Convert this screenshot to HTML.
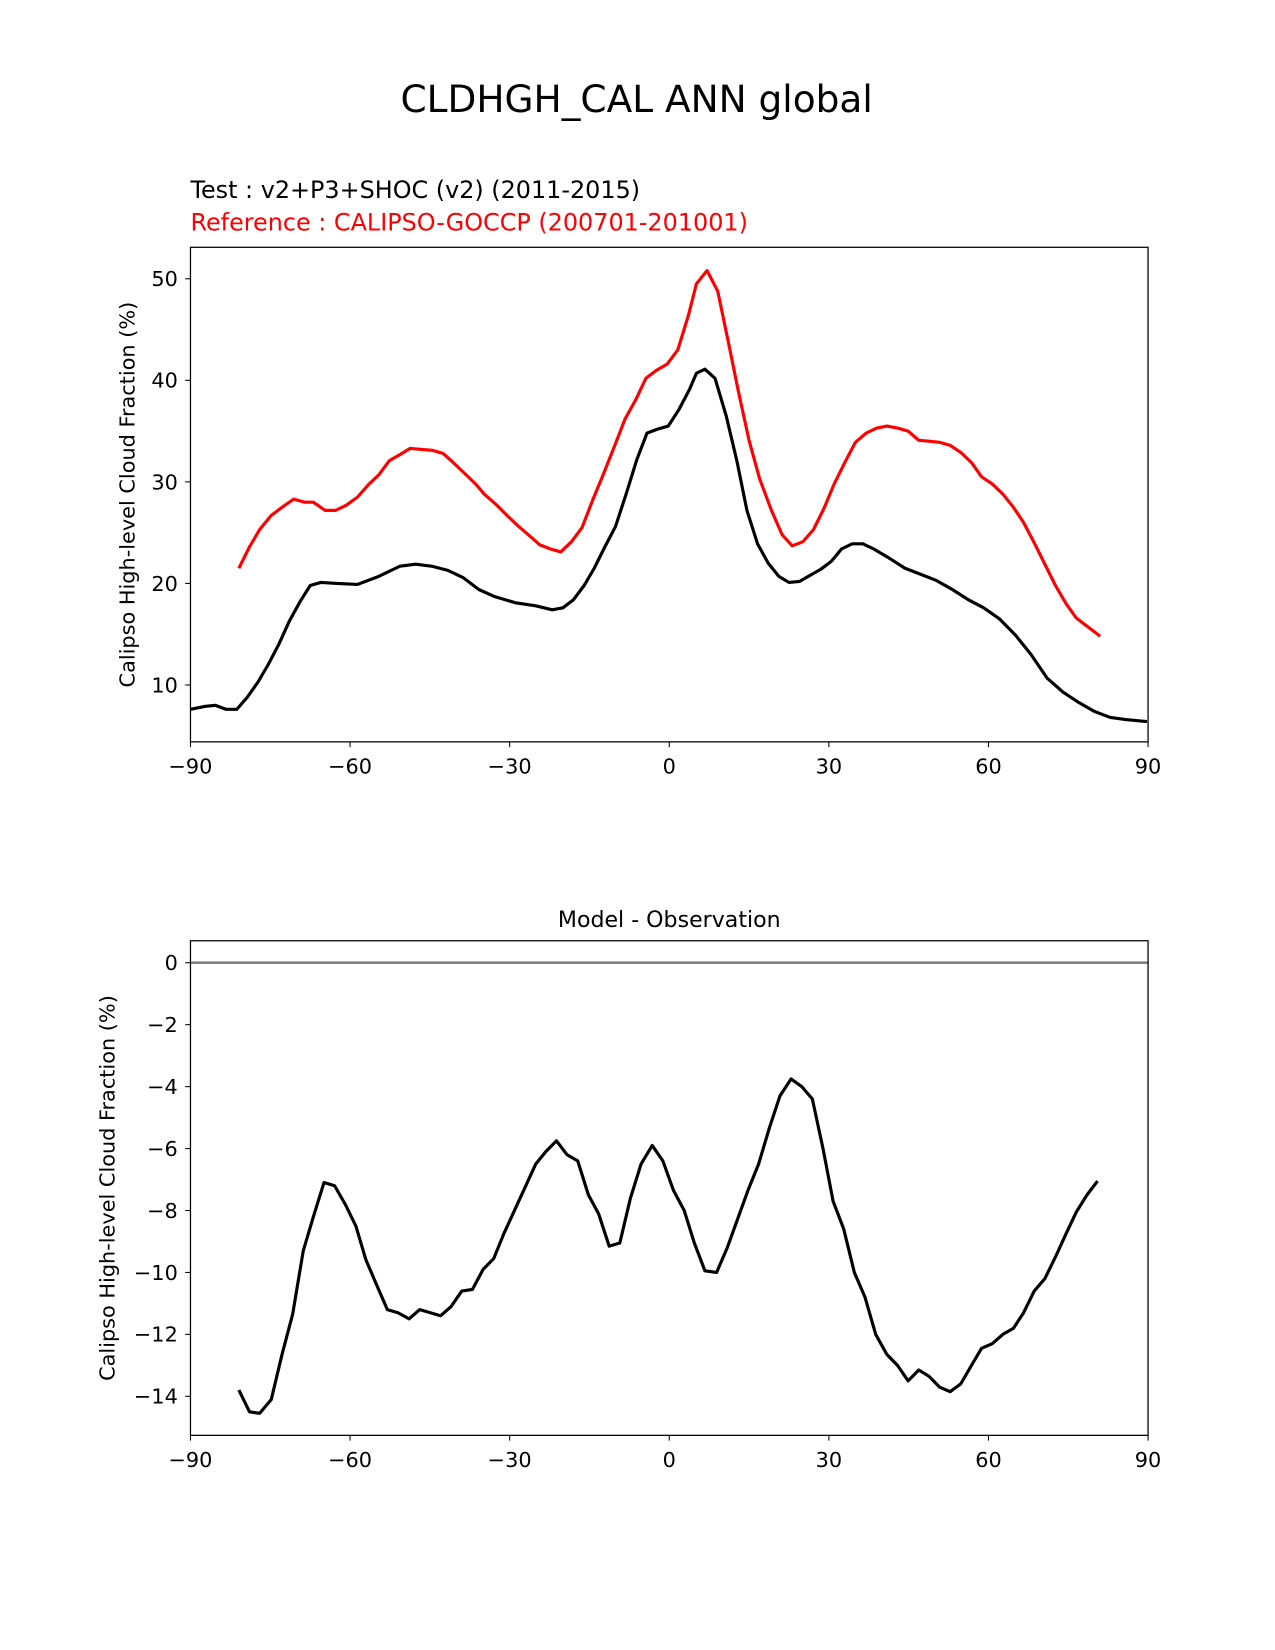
<!DOCTYPE html>
<html><head><meta charset="utf-8"><style>
body{margin:0;background:#fff}
svg{display:block;font-family:"DejaVu Sans","Liberation Sans",sans-serif}
</style></head><body>
<svg id="chart" width="1275" height="1650" viewBox="0 0 1275 1650" xmlns="http://www.w3.org/2000/svg">
<rect width="1275" height="1650" fill="#fff"/>
<g transform="scale(1.0523)">
<text x="605" y="106.4" font-size="35.6" text-anchor="middle">CLDHGH_CAL ANN global</text>
<text x="181" y="188" font-size="22.7">Test : v2+P3+SHOC (v2) (2011-2015)</text>
<text x="181" y="219" font-size="22.7" fill="#ff0000">Reference : CALIPSO-GOCCP (200701-201001)</text>
<text x="636" y="881" font-size="21" text-anchor="middle">Model - Observation</text>
<g id="top"></g>
<g id="bot"></g>
</g>
</svg>
<script>
const refLat=[-80.9,-78.9,-77,-74.8,-72.8,-70.6,-68.6,-66.9,-64.7,-62.7,-60.7,-58.6,-56.6,-54.6,-52.6,-50.6,-48.7,-46.5,-44.5,-42.5,-40.6,-38.4,-36.4,-34.8,-32.4,-30.5,-28.5,-26.5,-24.3,-22.4,-20.4,-18.4,-16.4,-14.4,-12.5,-10.3,-8.3,-6.3,-4.4,-2.4,-0.4,1.6,3.6,5.1,7.1,9.1,11.1,13,15,17,19.2,21.2,23.1,25.1,27.1,29.1,31,33,35,37,39,40.9,42.9,44.9,46.9,48.8,50.8,52.8,54.8,56.8,58.7,60.7,62.7,64.7,66.6,68.6,70.6,72.6,74.6,76.5,78.5,81];
const refVal=[21.5,23.6,25.3,26.7,27.5,28.3,28.0,28.0,27.2,27.2,27.7,28.5,29.7,30.7,32.1,32.7,33.3,33.2,33.1,32.8,31.9,30.8,29.8,28.8,27.7,26.7,25.7,24.8,23.8,23.4,23.1,24.1,25.5,28.2,30.6,33.5,36.2,38.1,40.2,41.0,41.6,43.0,46.4,49.5,50.8,48.8,43.8,38.9,34.1,30.3,27.2,24.8,23.7,24.1,25.3,27.4,29.8,31.9,33.9,34.8,35.3,35.5,35.3,35.0,34.1,34.0,33.9,33.6,32.9,31.9,30.5,29.8,28.8,27.5,26.0,24.0,21.9,19.8,18.0,16.6,15.8,14.8];
const testLat=[-90,-87.2,-85.3,-83.3,-81.3,-79.3,-77.3,-75.4,-73.4,-71.4,-69.4,-67.5,-65.5,-62.5,-58.6,-54.6,-50.6,-47.7,-44.7,-41.7,-38.8,-35.8,-32.8,-28.9,-25.1,-22,-20,-18,-16,-14.1,-12.1,-10.1,-8.1,-6.1,-4.2,-2.2,-0.2,1.8,3.8,5.1,6.7,8.6,10.7,12.7,14.6,16.6,18.6,20.6,22.5,24.5,26.5,28.5,30.5,32.4,34.4,36.4,38.4,41.3,44.3,47.3,50.2,53.2,56.2,59.1,62.1,65.1,68,71,74,76.9,79.9,82.9,85.8,89.8];
const testVal=[7.6,7.9,8.0,7.6,7.6,8.8,10.3,12.0,14.0,16.3,18.2,19.8,20.1,20.0,19.9,20.7,21.7,21.9,21.7,21.3,20.6,19.4,18.7,18.1,17.8,17.4,17.6,18.4,19.8,21.5,23.6,25.6,28.8,32.2,34.8,35.2,35.5,37.1,39.1,40.7,41.1,40.2,36.5,32.1,27.2,23.9,22.0,20.7,20.1,20.2,20.8,21.4,22.2,23.4,23.9,23.9,23.4,22.5,21.5,20.9,20.3,19.4,18.4,17.6,16.5,14.9,13.0,10.7,9.3,8.3,7.4,6.8,6.6,6.4];
const diffLat=[-80.9,-78.9,-77,-74.8,-72.8,-70.8,-68.8,-66.9,-64.9,-62.9,-60.9,-58.9,-57,-55,-53,-51,-48.9,-46.9,-44.9,-43,-41,-39,-37,-35,-33,-31.1,-29.1,-27.1,-25.1,-23.2,-21.2,-19.2,-17.2,-15.2,-13.3,-11.3,-9.3,-7.3,-5.3,-3.2,-1.2,0.8,2.8,4.7,6.7,8.9,10.9,12.8,14.8,16.8,18.8,20.8,22.9,24.9,26.9,28.9,30.8,32.8,34.8,36.8,38.8,40.9,42.9,44.9,46.9,48.8,50.8,52.8,54.8,56.8,58.7,60.7,62.7,64.7,66.6,68.6,70.6,72.6,74.6,76.5,78.5,80.5];
const diffVal=[-13.8,-14.5,-14.55,-14.1,-12.65,-11.35,-9.3,-8.2,-7.1,-7.2,-7.8,-8.5,-9.6,-10.4,-11.2,-11.3,-11.5,-11.2,-11.3,-11.4,-11.1,-10.6,-10.55,-9.9,-9.55,-8.75,-8.0,-7.25,-6.5,-6.1,-5.75,-6.2,-6.4,-7.5,-8.1,-9.15,-9.05,-7.6,-6.5,-5.9,-6.4,-7.35,-8.0,-9.05,-9.95,-10.0,-9.2,-8.3,-7.35,-6.5,-5.35,-4.3,-3.75,-4.0,-4.4,-6.0,-7.7,-8.6,-10.0,-10.8,-12.0,-12.65,-13.0,-13.5,-13.15,-13.35,-13.7,-13.85,-13.6,-13.0,-12.45,-12.3,-12.0,-11.8,-11.3,-10.6,-10.2,-9.5,-8.75,-8.05,-7.5,-7.05];
const xTicks=[-90,-60,-30,0,30,60,90];
const xTickLabels=["\u221290","\u221260","\u221230","0","30","60","90"];
const topYTicks=[10,20,30,40,50];
const botYTicks=[0,-2,-4,-6,-8,-10,-12,-14];

const NS="http://www.w3.org/2000/svg";
function mk(p,t,a){const e=document.createElementNS(NS,t);for(const k in a)e.setAttribute(k,a[k]);p.appendChild(e);return e;}
const X0=181,X1=1091;
const xs=v=>X0+(v+90)/180*(X1-X0);
function panel(g,top,bot,ymin,ymax,yt,prefix){
  const ys=v=>bot-(v-ymin)/(ymax-ymin)*(bot-top);
  xTicks.forEach((t,i)=>{
    const l=mk(g,'line',{x1:xs(t),x2:xs(t),y1:bot,y2:bot+5,stroke:'#000','stroke-width':1});
    
    
    const tx=mk(g,'text',{x:xs(t),y:bot+30,'font-size':19.8,'text-anchor':'middle'});
    tx.textContent=xTickLabels[i];
    
    
  });
  yt.forEach(t=>{
    const l=mk(g,'line',{x1:X0-5,x2:X0,y1:ys(t),y2:ys(t),stroke:'#000','stroke-width':1});
    
    
    const tx=mk(g,'text',{x:X0-12,y:ys(t)+7,'font-size':19.8,'text-anchor':'end'});
    tx.textContent=t<0?'\u2212'+(-t):String(t);
    
    
  });
  return ys;
}
function line(g,lat,val,xs,ys,color,w,name){
  const d=lat.map((v,i)=>(i?'L':'M')+xs(v).toFixed(1)+' '+ys(val[i]).toFixed(1)).join(' ');
  const p=mk(g,'path',{d:d,fill:'none',stroke:color,'stroke-width':w,'stroke-linejoin':'round'});
  
  
}
const gt=document.getElementById('top'),gb=document.getElementById('bot');
const ysT=panel(gt,235,705,4.4,53.1,topYTicks,'top');
line(gt,refLat,refVal,xs,ysT,'#ff0000',3,'reference-line');
line(gt,testLat,testVal,xs,ysT,'#000',3,'test-line');
let r=mk(gt,'rect',{x:X0,y:235,width:X1-X0,height:470,fill:'none',stroke:'#000','stroke-width':1.2});


let yl=mk(gt,'text',{x:0,y:0,'font-size':19.8,'text-anchor':'middle',transform:'translate(128,470) rotate(-90)'});
yl.textContent='Calipso High-level Cloud Fraction (%)';



const ysB=panel(gb,894,1364,-15.26,0.71,botYTicks,'bottom');
let z=mk(gb,'line',{x1:X0,x2:X1,y1:ysB(0),y2:ysB(0),stroke:'#808080','stroke-width':2.5});


line(gb,diffLat,diffVal,xs,ysB,'#000',3,'difference-line');
r=mk(gb,'rect',{x:X0,y:894,width:X1-X0,height:470,fill:'none',stroke:'#000','stroke-width':1.2});


yl=mk(gb,'text',{x:0,y:0,'font-size':19.8,'text-anchor':'middle',transform:'translate(109,1129) rotate(-90)'});
yl.textContent='Calipso High-level Cloud Fraction (%)';


</script>
</body></html>
